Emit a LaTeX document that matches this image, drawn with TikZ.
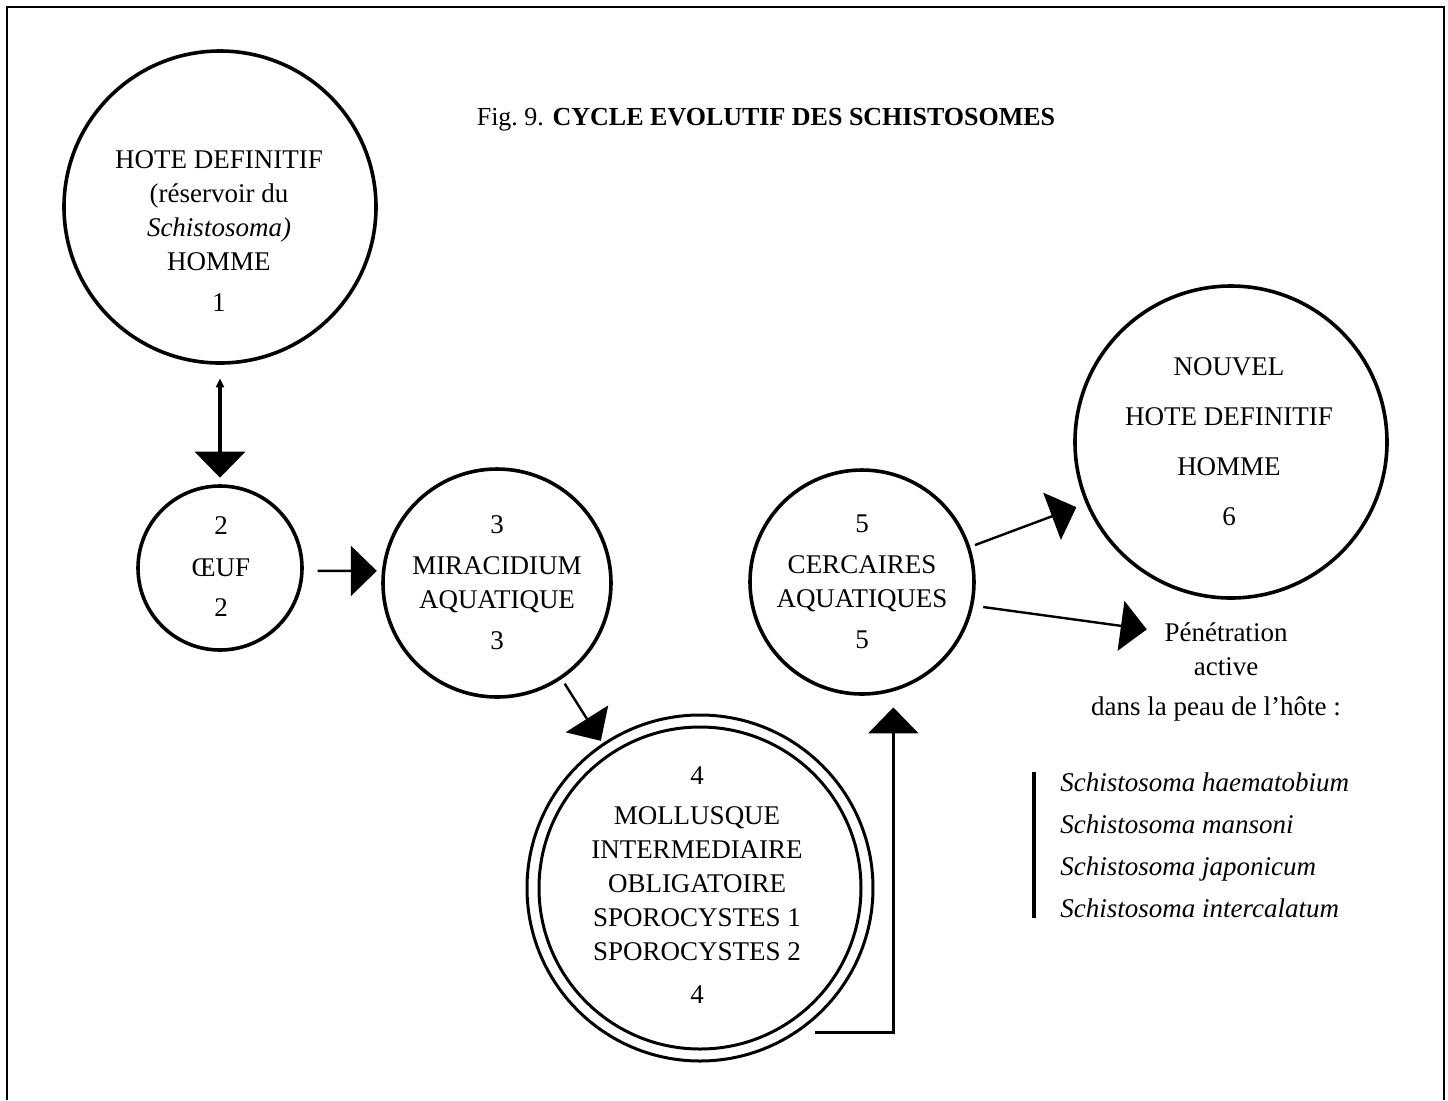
\documentclass[tikz,border=0pt]{standalone}
\usepackage{fontspec}
\setmainfont{Liberation Serif}
\usetikzlibrary{arrows.meta}
\newcommand{\ringwidth}{1.8pt}
\newcommand{\headwidth}{25pt}
\newcommand{\headlength}{13pt}

\begin{document}
\begin{tikzpicture}[x=0.5pt,y=-0.5pt,font=\fontsize{13.5}{17}\selectfont,
  stage/.style={circle,draw,line width=\ringwidth,inner sep=0pt},
  words/.style={align=center,inner sep=0pt},
  bighead/.style={-{Triangle[width=\headwidth,length=\headlength]},line width=1.2pt}]
\useasboundingbox (0,0) rectangle (1448,1100);
% frame
\draw[line width=1.3pt] (7,1100) -- (7,7) -- (1444,7) -- (1444,1100);
\node[font=\fontsize{13}{16}\selectfont] (title) at (766,120) {Fig.~9. \textbf{CYCLE EVOLUTIF DES SCHISTOSOMES}};
% stages
\node[stage,minimum size=156pt] (c1) at (220,207) {};
\node[stage,minimum size=82pt] (c2) at (220,568) {};
\node[stage,minimum size=114pt] (c3) at (497,583) {};
\node[stage,minimum size=173pt,line width=1.5pt] (c4) at (700,888) {};
\node[stage,minimum size=161pt,line width=1.5pt] (c4i) at (700,888) {};
\node[stage,minimum size=112pt] (c5) at (862,582) {};
\node[stage,minimum size=156pt] (c6) at (1231,442) {};
% texts
\node[words] (t1) at (219,231) {HOTE DEFINITIF\\(réservoir du\\\textit{Schistosoma)}\\HOMME\\[3.5pt]1};
\node[words] (t2) at (221,567) {2\\[4pt]ŒUF\\[3pt]2};
\node[words] (t3) at (497,583) {3\\[3.5pt]MIRACIDIUM\\AQUATIQUE\\[3.5pt]3};
\node[words] (t4) at (697,885) {4\\[3pt]MOLLUSQUE\\INTERMEDIAIRE\\OBLIGATOIRE\\SPOROCYSTES 1\\SPOROCYSTES 2\\[4.5pt]4};
\node[words] (t5) at (862,582) {5\\[3.5pt]CERCAIRES\\AQUATIQUES\\[3.5pt]5};
\node[words] (t6) at (1229,442) {NOUVEL\\[8pt]HOTE DEFINITIF\\[8pt]HOMME\\[8pt]6};
\node[words,anchor=base] (pen1) at (1226,641) {Pénétration};
\node[words,anchor=base] (pen2) at (1226,675) {active};
\node[words,anchor=base] (pen3) at (1216,715) {dans la peau de l’hôte~:};
\foreach \name [count=\i] in {haematobium,mansoni,japonicum,intercalatum}
  \node[inner sep=0pt,anchor=base west] (s\i) at (1060,{791+42*(\i-1)}) {\textit{Schistosoma \name}};
\draw[line width=2pt] ([xshift=-13pt]s1.north west) -- ([xshift=-13pt]s4.south west);
% arrows
\draw[line width=1.8pt,{Triangle[width=4pt,length=4.5pt]}-{Triangle[width=\headwidth,length=\headlength]},
  shorten <=6.75pt,shorten >=3.25pt] (c1.south) -- (c2.north);
\draw[bighead,shorten <=7pt,shorten >=2.5pt] (c2.-2) -- (c3.174);
\draw[bighead,shorten <=2.75pt,shorten >=1.5pt] (c3.-56) -- (c4.124);
\draw[bighead,shorten <=8.7pt,shorten >=8pt] (c4.-56) -| (c5.-74);
\draw[bighead,shorten <=2.5pt,shorten >=5pt] (c5.18) -- (c6.-157);
\draw[bighead,shorten <=5pt,shorten >=8.75pt] (c5.-12) -- (pen1.west);
\end{tikzpicture}
\end{document}
